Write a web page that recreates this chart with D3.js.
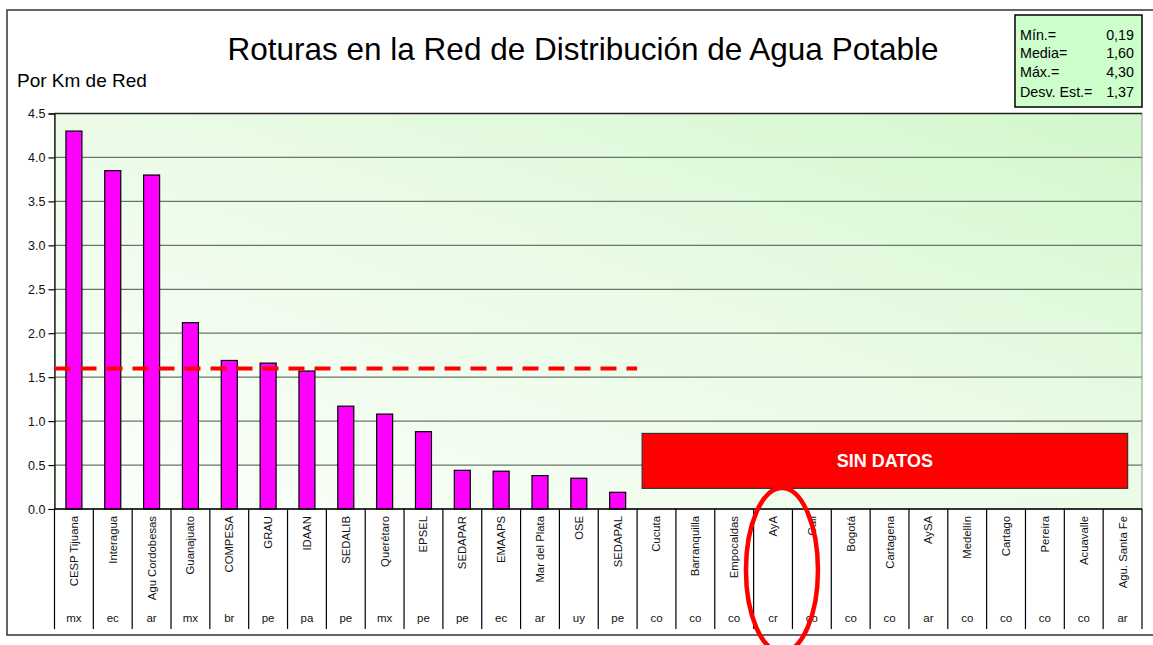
<!DOCTYPE html>
<html>
<head>
<meta charset="utf-8">
<script src="https://cdn.jsdelivr.net/npm/d3@7"></script>
<style>
  html, body { margin: 0; padding: 0; background: #ffffff; }
  svg { display: block; font-family: Arial, "Liberation Sans", sans-serif; }
</style>
</head>
<body>
<svg id="chart" width="1153" height="645"></svg>
<script>
// ---------- DATA ----------
const categories = ["CESP Tijuana","Interagua","Agu Cordobesas","Guanajuato","COMPESA","GRAU","IDAAN","SEDALIB","Querétaro","EPSEL","SEDAPAR","EMAAPS","Mar del Plata","OSE","SEDAPAL","Cucuta","Barranquilla","Empocaldas","AyA","Cali","Bogotá","Cartagena","AySA","Medellín","Cartago","Pereira","Acuavalle","Agu. Santa Fe"];
const countries = ["mx","ec","ar","mx","br","pe","pa","pe","mx","pe","pe","ec","ar","uy","pe","co","co","co","cr","co","co","co","ar","co","co","co","co","ar"];
const values = [4.30,3.85,3.80,2.12,1.69,1.66,1.57,1.17,1.08,0.88,0.44,0.43,0.38,0.35,0.19,null,null,null,null,null,null,null,null,null,null,null,null,null];
const yTicks = [0,0.5,1,1.5,2,2.5,3,3.5,4,4.5];
const meanValue = 1.60;
const statLabels = ["Mín.=","Media=","Máx.=","Desv. Est.="];
const statValues = ["0,19","1,60","4,30","1,37"];
const titleText = "Roturas en la Red de Distribución de Agua Potable";
const yAxisTitle = "Por Km de Red";
const noDataText = "SIN DATOS";
const noDataRange = [0.235, 0.86];

// ---------- LAYOUT ----------
const svg = d3.select("#chart");
const plot = {left: 54.5, right: 1142, top: 113.5, bottom: 509};

const x = d3.scaleBand().domain(categories).range([plot.left, plot.right]).paddingInner(0).paddingOuter(0);
const y = d3.scaleLinear().domain([0, 4.5]).range([plot.bottom, plot.top]);
const bw = x.bandwidth();

// defs: gradient
const defs = svg.append("defs");
const grad = defs.append("linearGradient").attr("id","bg").attr("x1","0").attr("y1","1").attr("x2","1").attr("y2","0");
grad.append("stop").attr("offset","0%").attr("stop-color","#fbfffa");
grad.append("stop").attr("offset","55%").attr("stop-color","#eafbe6");
grad.append("stop").attr("offset","100%").attr("stop-color","#d2f7cc");

// outer frame
svg.append("rect").attr("x",7).attr("y",10).attr("width",1160).attr("height",625)
  .attr("fill","#fff").attr("stroke","#333").attr("stroke-width",1.5);

// plot background
svg.append("rect").attr("x",plot.left).attr("y",plot.top)
  .attr("width",plot.right-plot.left).attr("height",plot.bottom-plot.top)
  .attr("fill","url(#bg)").attr("stroke","#8a9a8a").attr("stroke-width",1);

// gridlines
svg.append("g").selectAll("line").data(yTicks.filter(d=>d>0)).join("line")
  .attr("x1",plot.left).attr("x2",plot.right)
  .attr("y1",d=>y(d)).attr("y2",d=>y(d))
  .attr("stroke",d=>d===4.5?"#222":"#6a756a").attr("stroke-width",1.3);

// y axis
const yAxis = d3.axisLeft(y).tickValues(yTicks).tickFormat(d3.format(".1f")).tickSize(6).tickPadding(3);
const gy = svg.append("g").attr("transform",`translate(${plot.left},0)`).call(yAxis);
gy.select(".domain").attr("stroke","#000").attr("stroke-width",1.2);
gy.selectAll(".tick line").attr("stroke","#000").attr("stroke-width",1.2);
gy.selectAll(".tick text").attr("font-size",12.5).attr("fill","#111")
  .attr("font-family","Arial, 'Liberation Sans', sans-serif");

// bars
const barW = 16;
svg.append("g").selectAll("rect").data(categories.map((c,i)=>({c, v: values[i]})).filter(d=>d.v!==null)).join("rect")
  .attr("x",d=>x(d.c)+bw/2-barW/2).attr("width",barW)
  .attr("y",d=>y(d.v)).attr("height",d=>y(0)-y(d.v))
  .attr("fill","#ff00ff").attr("stroke","#000").attr("stroke-width",1.2);

// mean line across data categories
const withData = categories.filter((c,i)=>values[i]!==null);
svg.append("line")
  .attr("x1",plot.left).attr("x2",x(withData[withData.length-1])+bw)
  .attr("y1",y(meanValue)).attr("y2",y(meanValue))
  .attr("stroke","#ff0000").attr("stroke-width",4).attr("stroke-dasharray","16,10");

// x axis line
svg.append("line").attr("x1",plot.left).attr("x2",plot.right).attr("y1",plot.bottom).attr("y2",plot.bottom)
  .attr("stroke","#000").attr("stroke-width",1.3);

// category table separators
const sepX = categories.map(c=>x(c)).concat([plot.right]);
svg.append("g").selectAll("line").data(sepX).join("line")
  .attr("x1",d=>d).attr("x2",d=>d).attr("y1",plot.bottom).attr("y2",629)
  .attr("stroke","#000").attr("stroke-width",1.2);

// category labels (rotated)
svg.append("g").selectAll("text").data(categories).join("text")
  .attr("transform",d=>`translate(${x(d)+bw/2},516) rotate(-90)`)
  .attr("dy","0.35em").attr("text-anchor","end")
  .attr("font-size",11.3).attr("fill","#111").text(d=>d);

// country labels
svg.append("g").selectAll("text").data(categories).join("text")
  .attr("x",d=>x(d)+bw/2).attr("y",622).attr("text-anchor","middle")
  .attr("font-size",11.5).attr("fill","#111").text((d,i)=>countries[i]);

// SIN DATOS box
const noData = categories.filter((c,i)=>values[i]===null);
const boxX1 = x(noData[0]) + bw*0.13;
const boxX2 = x(noData[noData.length-1]) + bw*0.63;
svg.append("rect").attr("x",boxX1).attr("y",y(noDataRange[1]))
  .attr("width",boxX2-boxX1).attr("height",y(noDataRange[0])-y(noDataRange[1]))
  .attr("fill","#ff0000").attr("stroke","#333").attr("stroke-width",1.2);
svg.append("text").attr("x",(boxX1+boxX2)/2).attr("y",(y(noDataRange[0])+y(noDataRange[1]))/2)
  .attr("dy","0.36em").attr("text-anchor","middle").attr("font-size",18).attr("font-weight","bold")
  .attr("fill","#fff").text(noDataText);

// red ellipse annotation around AyA / Cali
svg.append("ellipse").attr("cx",x("AyA")+bw*0.73).attr("cy",570).attr("rx",36).attr("ry",82)
  .attr("fill","none").attr("stroke","#ff0000").attr("stroke-width",4.5);

// title
svg.append("text").attr("x",583).attr("y",60).attr("text-anchor","middle")
  .attr("font-size",31.5).attr("fill","#000").text(titleText);

// y axis title
svg.append("text").attr("x",17).attr("y",87).attr("font-size",19).attr("fill","#000").text(yAxisTitle);

// stats box
svg.append("rect").attr("x",1015).attr("y",15).attr("width",127).attr("height",92)
  .attr("fill","#ccffcc").attr("stroke","#000").attr("stroke-width",1.5);
const statY = [40, 58, 76.5, 96.5];
svg.append("g").selectAll("text").data(statLabels).join("text")
  .attr("x",1020).attr("y",(d,i)=>statY[i]).attr("font-size",14.3).attr("fill","#000").text(d=>d);
svg.append("g").selectAll("text").data(statValues).join("text")
  .attr("x",1134).attr("y",(d,i)=>statY[i]).attr("text-anchor","end").attr("font-size",14.3).attr("fill","#000").text(d=>d);
</script>
</body>
</html>
